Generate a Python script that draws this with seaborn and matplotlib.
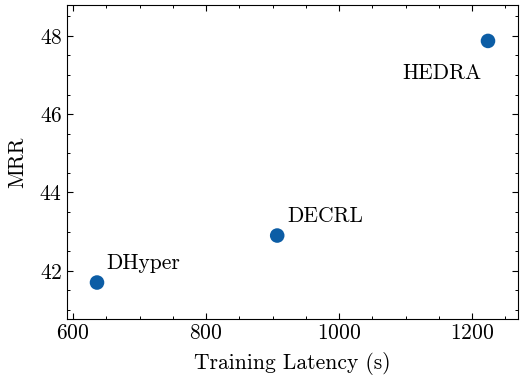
import matplotlib
matplotlib.use("Agg")
import matplotlib.pyplot as plt
from matplotlib.ticker import AutoMinorLocator
import seaborn as sns
import pandas as pd

methods = ["DHyper", "DECRL", "HEDRA"]
latency = [636, 907, 1224]
mrr = [41.7, 42.9, 47.87]

sns.set_theme(style="ticks")
plt.rcParams.update({
    "font.family": "serif",
    "font.serif": ["cmr10"],
    "mathtext.fontset": "cm",
    "axes.formatter.use_mathtext": True,
    "font.size": 15.5,
    "text.color": "black",
    "axes.labelcolor": "black",
    "axes.edgecolor": "black",
    "xtick.color": "black",
    "ytick.color": "black",
    "axes.linewidth": 0.8,
    "xtick.direction": "in",
    "ytick.direction": "in",
    "xtick.top": True,
    "ytick.right": True,
    "xtick.major.size": 4.5,
    "ytick.major.size": 4.5,
    "xtick.minor.size": 2.2,
    "ytick.minor.size": 2.2,
    "xtick.major.width": 0.8,
    "ytick.major.width": 0.8,
    "xtick.minor.width": 0.7,
    "ytick.minor.width": 0.7,
    "xtick.minor.visible": True,
    "ytick.minor.visible": True,
    "xtick.labelsize": 15.5,
    "ytick.labelsize": 15.5,
})

df = pd.DataFrame({"method": methods, "latency": latency, "mrr": mrr})

fig, ax = plt.subplots(figsize=(5.2, 3.77), dpi=100)
sns.scatterplot(data=df, x="latency", y="mrr", ax=ax, s=110,
                color="#0C5DA5", edgecolor="none", zorder=3)

offsets = {"DHyper": (7, 7, "left", "bottom"),
           "DECRL": (7, 7, "left", "bottom"),
           "HEDRA": (-5, -16, "right", "top")}
for m, x, y in zip(methods, latency, mrr):
    dx, dy, ha, va = offsets[m]
    ax.annotate(m, (x, y), xytext=(dx, dy), textcoords="offset points",
                ha=ha, va=va, fontsize=15.5, color="black")

ax.set_xlim(591, 1269)
ax.set_ylim(40.77, 48.79)
ax.set_xticks([600, 800, 1000, 1200])
ax.set_yticks([42, 44, 46, 48])
ax.xaxis.set_minor_locator(AutoMinorLocator(4))
ax.yaxis.set_minor_locator(AutoMinorLocator(4))
ax.tick_params(which="both", top=True, right=True, direction="in")
ax.set_xlabel("Training Latency (s)", fontsize=15.5, labelpad=6.5)
ax.set_ylabel("MRR", fontsize=15.5, labelpad=9)

fig.subplots_adjust(left=0.129, right=0.996, top=0.987, bottom=0.154)
fig.savefig("out.png", dpi=100)
